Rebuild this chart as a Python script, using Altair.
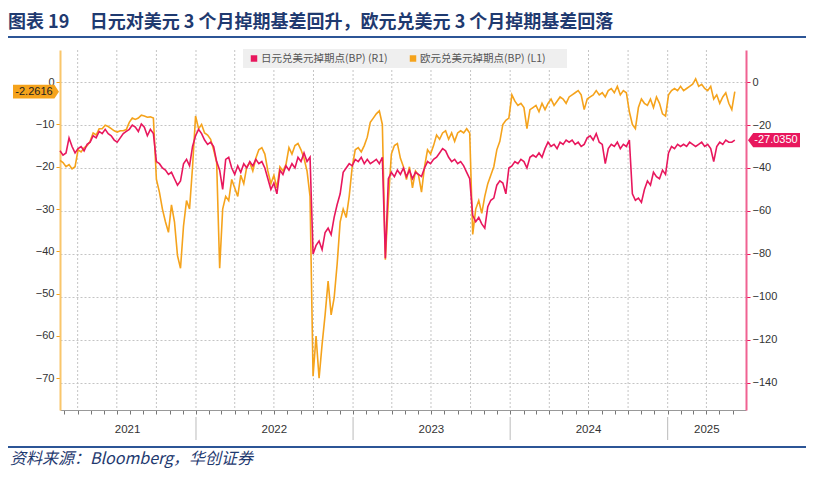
import altair as alt
import pandas as pd

# ---------------- data ----------------
start_date = "2021-02-19"   # weekly observations from here

# EUR/USD 3M basis swap points (BP), left axis (L1)
eur = [
    -18.5, -19, -20, -19.5, -20.5, -20, -16, -16.5, -15.5, -15,
    -14, -12, -12.5, -11, -11, -10.2, -10.5, -11, -11.5, -11.8,
    -11.5, -11.5, -11.2, -9.5, -8.5, -8.8, -8.5, -7.8, -8, -8.3,
    -8.2, -8.5, -23, -26, -30, -33, -35.5, -29, -33, -41,
    -44, -34, -28, -30, -20, -8, -11, -10, -12, -12.5,
    -13.5, -16, -19, -44, -30, -27, -28, -23, -25, -27,
    -22, -24, -20, -19, -21, -18, -16, -15.5, -17, -21,
    -24, -22, -25, -20, -21, -19.5, -15.5, -17, -15, -14.5,
    -16, -18, -21, -27, -69.5, -60, -70, -62, -55, -47,
    -55, -51, -43, -33, -30, -32, -27, -20, -16, -15.5,
    -16.5, -15, -13, -9.5, -8.5, -7.5, -6.8, -10, -42, -28,
    -17, -15, -14.5, -18, -20, -23, -20, -25, -21, -22,
    -26, -20, -16, -17, -15, -12.5, -13.5, -12, -11.5, -13.5,
    -12, -14, -12, -11.5, -12, -11, -12, -36, -30, -28,
    -31, -27, -24, -22, -20, -16, -14, -10, -9, -8.5,
    -3, -4.5, -5.5, -5, -6, -11, -6.5, -6, -5.5, -7,
    -5, -6.5, -5, -4, -5.5, -4.5, -3.5, -4, -5, -3.5,
    -3, -2.5, -2, -3, -6.5, -4, -3.5, -3, -2, -3,
    -2.5, -3.5, -2, -1.5, -2.5, -1, -3, -2, -2.5, -7,
    -10, -11, -6, -4, -5, -5.5, -4, -6, -3.5, -5,
    -7.5, -8, -3, -2, -1.5, -2, -1, -2, -1.5, -1,
    -0.5, 0.8, -1, -0.5, -1.5, -2, -1, -4, -3, -5,
    -3.5, -2.5, -5, -6.5, -2.2616,
]

# JPY/USD 3M basis swap points (BP), right axis (R1)
jpy = [
    -32, -34, -33, -26, -30, -33, -31, -30, -32, -29,
    -28, -25, -26, -23, -24, -22, -24, -25, -27, -28,
    -26, -24, -23, -22, -20, -21, -23, -19.5, -21, -25,
    -22, -24, -37, -38, -40, -41, -43, -42, -45, -48,
    -46, -38, -36, -39, -30, -25, -22, -24, -27, -29,
    -28, -30, -37, -41, -50, -36, -35, -40, -43, -39,
    -42, -38, -40, -37, -39, -36, -38, -37, -40, -45,
    -50, -47, -52, -41, -43, -39, -41, -38, -40, -35,
    -37, -33, -37, -35, -80, -76, -74, -78, -70, -68,
    -71, -63, -57, -52, -42, -40, -38, -39, -36, -37,
    -35, -38, -36, -38, -37, -36, -38, -35, -82, -45,
    -42, -44, -41, -43, -40, -44, -41, -45, -42, -43,
    -44, -40, -37, -38, -36, -35, -33, -31, -32, -35,
    -37, -36, -38, -37, -39, -42, -45, -62, -65, -63,
    -66, -68, -58, -55, -54, -48, -46, -47, -52, -40,
    -39, -37, -38, -36, -37, -40, -35, -34, -35, -33,
    -35, -31, -28, -30, -29, -31, -28, -29, -27, -28,
    -27, -29, -28, -30, -29, -26, -25, -27, -24, -28,
    -29, -38, -31, -29, -30, -28, -31, -29, -30, -27,
    -52, -55, -54, -56, -50, -46, -48, -42, -44, -45,
    -41, -43, -33, -30, -31, -29, -30, -29, -30, -28,
    -29, -30, -29, -28, -30, -29, -31, -37, -30, -28,
    -29, -27, -28, -28, -27.035,
]

eur_ticks = [0, -10, -20, -30, -40, -50, -60, -70]
jpy_ticks = [0, -20, -40, -60, -80, -100, -120, -140]
year_labels = ["2021", "2022", "2023", "2024", "2025"]
year_label_dates = ["2021-07-26", "2022-07-02", "2023-07-02", "2024-07-01", "2025-04-02"]
year_breaks = ["2022-01-01", "2023-01-01", "2024-01-01", "2025-01-01"]
quarter_grid = [f"{y}-{m:02d}-01" for y in range(2021, 2026) for m in (1, 4, 7, 10)
                if "2021-04-01" <= f"{y}-{m:02d}-01" <= "2025-04-01"]
legend_labels = ["日元兑美元掉期点(BP) (R1)", "欧元兑美元掉期点(BP) (L1)"]
NB = "\u00a0"
title_text = (f"图表{NB}19{NB * 5}日元对美元{NB}3{NB}个月掉期基差回升，"
              f"欧元兑美元{NB}3{NB}个月掉期基差回落")
source_text = "资料来源：Bloomberg，华创证券"

# ---------------- styling ----------------
EUR_COLOR = "#f5a31c"
JPY_COLOR = "#e8175d"
NAVY = "#1f3a70"
RULE_BLUE = "#2c5596"
GRID = "#c4c4c4"
W, H = 686, 360

dates = pd.date_range(start_date, periods=len(eur), freq="7D").strftime("%Y-%m-%d").tolist()
df = pd.DataFrame({"date": dates, "eur": eur, "jpy": jpy})

x_scale = alt.Scale(domain=[alt.DateTime(year=2021, month=2, date=19, utc=True),
                            alt.DateTime(year=2025, month=7, date=2, utc=True)])
month_ticks = [alt.DateTime(year=y, month=m, date=1, utc=True)
               for y in range(2021, 2026) for m in range(1, 13)
               if (2021, 3) <= (y, m) <= (2025, 6)]
X_AXIS = alt.Axis(values=month_ticks, labels=False, grid=False, title=None, ticks=True,
                  tickSize=4, tickColor="#777", domainColor="#999", domainWidth=1)

EUR_SCALE = alt.Scale(domain=[-77.5, 7.6], nice=False, zero=False)
JPY_SCALE = alt.Scale(domain=[-152.6, 14.9], nice=False, zero=False)

one = alt.Data(values=[{"k": 1}])

def X(field):
    return alt.X(field, scale=x_scale, axis=X_AXIS)

# quarterly vertical gridlines
qgrid = alt.Chart(pd.DataFrame({"d": quarter_grid})).mark_rule(
    color=GRID, strokeDash=[2, 2], strokeWidth=1
).encode(x=X("d:T"))

eur_line = alt.Chart(df).mark_line(color=EUR_COLOR, strokeWidth=1.6).encode(
    x=X("date:T"),
    y=alt.Y("eur:Q", scale=EUR_SCALE,
            axis=alt.Axis(orient="left", values=eur_ticks, title=None, grid=False,
                          domainColor="#f9c66b", domainWidth=2, tickColor=EUR_COLOR,
                          tickSize=4, labelColor="#333", labelFont="Liberation Sans",
                          labelFontSize=11, labelPadding=2)),
)

jpy_line = alt.Chart(df).mark_line(color=JPY_COLOR, strokeWidth=1.6).encode(
    x=X("date:T"),
    y=alt.Y("jpy:Q", scale=JPY_SCALE,
            axis=alt.Axis(orient="right", values=jpy_ticks, title=None, grid=True,
                          gridColor=GRID, gridDash=[2, 2], domainColor="#f06292",
                          domainWidth=2, tickColor=JPY_COLOR, tickSize=4,
                          labelColor="#333", labelFont="Liberation Sans",
                          labelFontSize=11, labelPadding=2)),
)

# last-value tags
eur_last = pd.DataFrame({"v": [eur[-1]], "label": [f"{eur[-1]:.4f}"]})
jpy_last = pd.DataFrame({"v": [jpy[-1]], "label": [f"{jpy[-1]:.4f}"]})
LEFT_TAG = "M-1,-0.3L0.8,-0.3L1,0L0.8,0.3L-1,0.3Z"
RIGHT_TAG = "M-1,0L-0.8,-0.27L1,-0.27L1,0.27L-0.8,0.27Z"

eur_tag = alt.Chart(eur_last).mark_point(
    shape=LEFT_TAG, size=2116, filled=True, color=EUR_COLOR, opacity=1
).encode(x=alt.value(-24), y=alt.Y("v:Q", scale=EUR_SCALE, axis=None))
eur_tag_text = alt.Chart(eur_last).mark_text(
    fontSize=11, font="Liberation Sans", color="#222"
).encode(x=alt.value(-26), y=alt.Y("v:Q", scale=EUR_SCALE, axis=None), text="label:N")

jpy_tag = alt.Chart(jpy_last).mark_point(
    shape=RIGHT_TAG, size=2704, filled=True, color=JPY_COLOR, opacity=1
).encode(x=alt.value(714), y=alt.Y("v:Q", scale=JPY_SCALE, axis=None))
jpy_tag_text = alt.Chart(jpy_last).mark_text(
    fontSize=11, font="Liberation Sans", color="white"
).encode(x=alt.value(716), y=alt.Y("v:Q", scale=JPY_SCALE, axis=None), text="label:N")

# year labels and separators under the axis
year_text = alt.Chart(pd.DataFrame({"d": year_label_dates, "label": year_labels})).mark_text(
    fontSize=11.5, font="Liberation Sans", color="#333"
).encode(x=X("d:T"), y=alt.value(380), text="label:N")
year_sep = alt.Chart(pd.DataFrame({"d": year_breaks})).mark_rule(
    color="#bbbbbb", strokeWidth=1
).encode(x=X("d:T"), y=alt.value(367), y2=alt.value(390))

# legend (manual)
leg_bg = alt.Chart(one).mark_rect(color="#efefef").encode(
    x=alt.value(183), x2=alt.value(507), y=alt.value(-1), y2=alt.value(18))
leg_sq1 = alt.Chart(one).mark_square(size=42, color=JPY_COLOR, opacity=1).encode(
    x=alt.value(194), y=alt.value(8.5))
leg_sq2 = alt.Chart(one).mark_square(size=42, color=EUR_COLOR, opacity=1).encode(
    x=alt.value(353), y=alt.value(8.5))
leg_t1 = alt.Chart(one).mark_text(
    text=legend_labels[0], align="left", fontSize=10.5, font="Noto Sans CJK SC", color="#555"
).encode(x=alt.value(201), y=alt.value(8.5))
leg_t2 = alt.Chart(one).mark_text(
    text=legend_labels[1], align="left", fontSize=10.5, font="Noto Sans CJK SC", color="#555"
).encode(x=alt.value(360), y=alt.value(8.5))

# title, rules, source
title = alt.Chart(one).mark_text(
    text=title_text, align="left", baseline="middle", fontSize=18, fontWeight="bold",
    font="Noto Sans CJK SC", color=NAVY
).encode(x=alt.value(-52), y=alt.value(-27))
top_rule = alt.Chart(one).mark_rule(color=RULE_BLUE, strokeWidth=2).encode(
    x=alt.value(-52), x2=alt.value(746), y=alt.value(-13))
bottom_rule = alt.Chart(one).mark_rule(color=RULE_BLUE, strokeWidth=2).encode(
    x=alt.value(-52), x2=alt.value(746), y=alt.value(397))
source = alt.Chart(one).mark_text(
    text=source_text, align="left", baseline="middle", fontSize=16, fontStyle="italic",
    font="Noto Sans CJK SC", color=NAVY
).encode(x=alt.value(-50), y=alt.value(409))

chart = alt.layer(
    qgrid, eur_line, jpy_line, eur_tag, eur_tag_text, jpy_tag, jpy_tag_text,
    year_sep, year_text, leg_bg, leg_sq1, leg_sq2, leg_t1, leg_t2,
    title, top_rule, bottom_rule, source,
).resolve_scale(y="independent").properties(
    width=W, height=H,
    padding={"left": 52, "top": 42, "right": 60, "bottom": 58},
    autosize=alt.AutoSizeParams(type="none"),
    background="white",
).configure_view(stroke=None)

chart.save("out.html", embed_options={"renderer": "svg", "actions": False})
